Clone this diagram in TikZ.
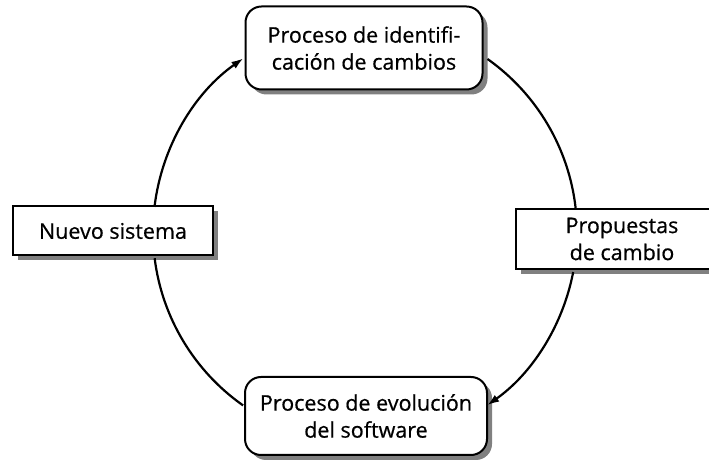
\documentclass[tikz,border=0pt]{standalone}
\usepackage{fontspec}
\setmainfont{Open Sans}
\newfontface\boxfont{Open Sans}[FakeBold=0.6]
\usepackage{tikz}
\usetikzlibrary{arrows.meta, positioning, shadows, calc}

\begin{document}
\begin{tikzpicture}[
  x=1pt, y=1pt,
  box/.style={draw, line width=2pt, fill=white, align=center,
              inner sep=0pt, font=\boxfont\fontsize{21.5}{27}\selectfont,
              drop shadow={shadow xshift=5pt, shadow yshift=-5pt,
                           fill=black!50, opacity=1}},
  proc/.style={box, rounded corners=16pt},
  arr/.style={-{Latex[length=12pt, width=8pt]}, line width=2.2pt},
  link/.style={line width=2.2pt}
]
  \useasboundingbox (0,0) rectangle (709,465);
  \coordinate (ring) at (365,233);

  % the four stages
  \node[proc, minimum width=237pt, minimum height=83pt] (ident) at (364,417)
       {Proceso de identifi-\\cación de cambios};
  \node[box, minimum width=200pt, minimum height=49pt] (nuevo) at (113,234)
       {Nuevo sistema};
  \node[box, minimum width=212pt, minimum height=60pt] (propuestas) at (622,226)
       {Propuestas\\de cambio};
  \node[proc, minimum width=242pt, minimum height=78pt] (evol) at (366,49)
       {Proceso de evolución\\del software};

  % the cycle
  \draw[arr] ($(ring)+(173.2:212)$) arc[start angle=173.2, end angle=125, radius=212];
  \draw[link] ($(ring)+(54.7:212)$) arc[start angle=54.7, end angle=6.3, radius=212];
  \draw[arr] ($(ring)+(-10.9:212)$) arc[start angle=-10.9, end angle=-54.8, radius=212];
  \draw[link] ($(ring)+(234.9:212)$) arc[start angle=234.9, end angle=187.1, radius=212];
\end{tikzpicture}
\end{document}
